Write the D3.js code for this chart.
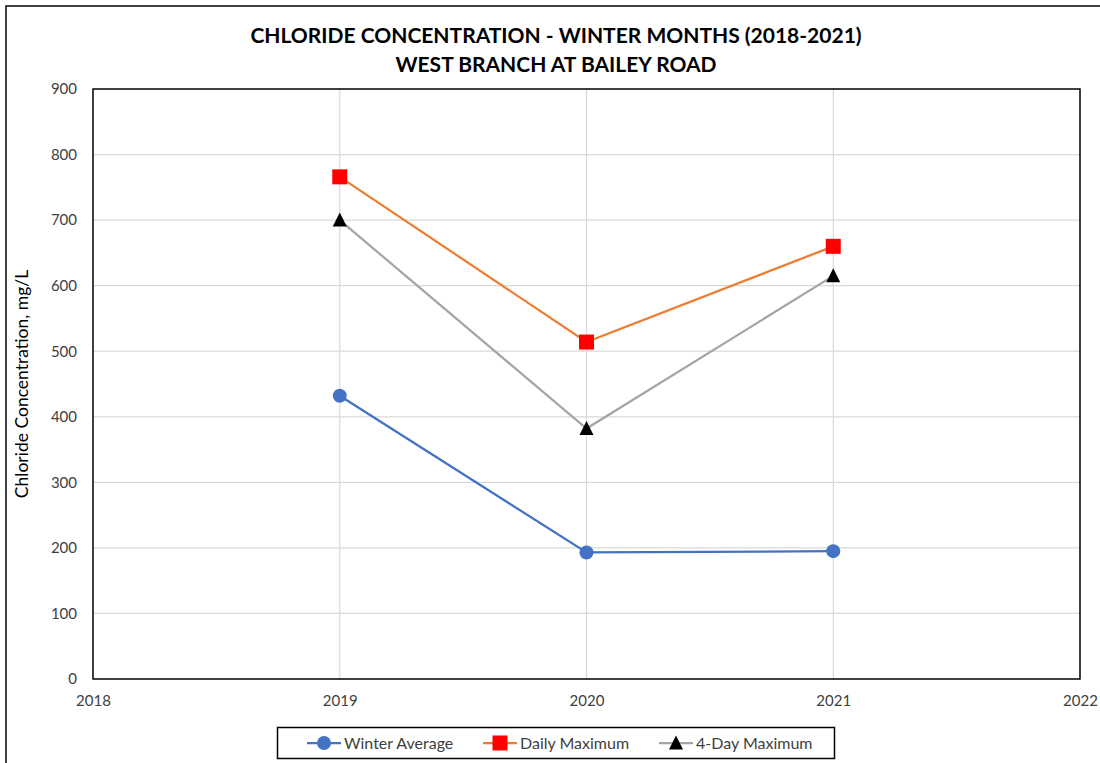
<!DOCTYPE html>
<html>
<head>
<meta charset="utf-8">
<script src="https://cdn.jsdelivr.net/npm/d3@7"></script>
<style>
  body { margin: 0; background: #fff; }
  svg { display: block; font-family: Lato, "Open Sans", sans-serif; }
</style>
</head>
<body>
<svg id="chart" width="1100" height="763"></svg>
<script>
// data
const years = [2019, 2020, 2021];
const winterAverage = [432, 193, 195];
const dailyMaximum = [766, 514, 660];
const fourDayMaximum = [700, 382, 615];
const yTicks = [0, 100, 200, 300, 400, 500, 600, 700, 800, 900];
const xTicks = [2018, 2019, 2020, 2021, 2022];

const series = [
  { name: "Winter Average", values: winterAverage, line: "#4472C4", marker: "circle", fill: "#4472C4" },
  { name: "Daily Maximum", values: dailyMaximum, line: "#ED7D31", marker: "square", fill: "#FF0000" },
  { name: "4-Day Maximum", values: fourDayMaximum, line: "#A5A5A5", marker: "triangle", fill: "#000000" }
];

const svg = d3.select("#chart");
const margin = { left: 93, top: 89, right: 1080, bottom: 679 };

const x = d3.scaleLinear().domain([2018, 2022]).range([margin.left, margin.right]);
const y = d3.scaleLinear().domain([0, 900]).range([margin.bottom, margin.top]);

// outer chart frame
svg.append("rect")
  .attr("x", 6).attr("y", 6)
  .attr("width", 1110).attr("height", 780)
  .attr("fill", "none").attr("stroke", "#000").attr("stroke-width", 1.5);

// title
const title = svg.append("text")
  .attr("x", 556).attr("text-anchor", "middle")
  .style("font-weight", "bold").style("font-size", "21px").attr("fill", "#000");
title.append("tspan").attr("x", 556).attr("y", 43).text("CHLORIDE CONCENTRATION - WINTER MONTHS (2018-2021)");
title.append("tspan").attr("x", 556).attr("y", 72).text("WEST BRANCH AT BAILEY ROAD");

// gridlines
svg.append("g")
  .selectAll("line.h")
  .data(yTicks.filter(d => d > 0 && d < 900))
  .join("line")
  .attr("x1", margin.left).attr("x2", margin.right)
  .attr("y1", d => y(d)).attr("y2", d => y(d))
  .attr("stroke", "#d9d9d9").attr("stroke-width", 1.2);

svg.append("g")
  .selectAll("line.v")
  .data(xTicks.filter(d => d > 2018 && d < 2022))
  .join("line")
  .attr("x1", d => x(d)).attr("x2", d => x(d))
  .attr("y1", margin.top).attr("y2", margin.bottom)
  .attr("stroke", "#d9d9d9").attr("stroke-width", 1.2);

// axes (labels only, Excel style)
const yAxis = svg.append("g")
  .attr("transform", `translate(${margin.left},0)`)
  .call(d3.axisLeft(y).tickValues(yTicks).tickSize(0).tickPadding(16));
const xAxis = svg.append("g")
  .attr("transform", `translate(0,${margin.bottom})`)
  .call(d3.axisBottom(x).tickValues(xTicks).tickFormat(d3.format("d")).tickSize(0).tickPadding(16));
[yAxis, xAxis].forEach(a => {
  a.select(".domain").remove();
  a.selectAll("text").style("font-size", "15px").attr("fill", "#404040")
    .style("font-family", "Lato, 'Open Sans', sans-serif");
});

// plot border
svg.append("rect")
  .attr("x", margin.left).attr("y", margin.top)
  .attr("width", margin.right - margin.left).attr("height", margin.bottom - margin.top)
  .attr("fill", "none").attr("stroke", "#000").attr("stroke-width", 1.5);

// y axis title
svg.append("text")
  .attr("transform", `translate(28,${(margin.top + margin.bottom) / 2}) rotate(-90)`)
  .attr("text-anchor", "middle")
  .style("font-size", "17.5px").attr("fill", "#000")
  .text("Chloride Concentration, mg/L");

function drawMarker(g, type, fill) {
  if (type === "circle") {
    g.append("circle").attr("r", 7).attr("fill", fill);
  } else if (type === "square") {
    g.append("rect").attr("x", -7.5).attr("y", -7.5).attr("width", 15).attr("height", 15).attr("fill", fill);
  } else {
    g.append("path").attr("d", "M0,-7.5L7,6.5L-7,6.5Z").attr("fill", fill);
  }
}

const line = d3.line().x((d, i) => x(years[i])).y(d => y(d));

series.forEach(s => {
  svg.append("path")
    .attr("d", line(s.values))
    .attr("fill", "none").attr("stroke", s.line).attr("stroke-width", 2.25);
  s.values.forEach((v, i) => {
    const g = svg.append("g").attr("transform", `translate(${x(years[i])},${y(v)})`);
    drawMarker(g, s.marker, s.fill);
  });
});

// legend
svg.append("rect")
  .attr("x", 277.5).attr("y", 727.5).attr("width", 557).attr("height", 31)
  .attr("fill", "#fff").attr("stroke", "#000").attr("stroke-width", 1.5);
const legendX = [307, 483, 659];
series.forEach((s, i) => {
  const g = svg.append("g").attr("transform", `translate(${legendX[i]},743)`);
  g.append("line").attr("x1", 0).attr("x2", 34).attr("stroke", s.line).attr("stroke-width", 2.25);
  const m = g.append("g").attr("transform", "translate(17,0)");
  drawMarker(m, s.marker, s.fill);
  g.append("text").attr("x", 37).attr("y", 5.5)
    .style("font-size", "16px").attr("fill", "#404040").text(s.name);
});
</script>
</body>
</html>
